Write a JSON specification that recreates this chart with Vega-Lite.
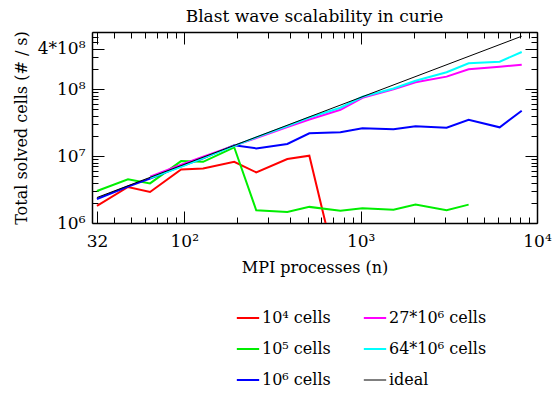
{
  "$schema": "https://vega.github.io/schema/vega-lite/v6.json",
  "autosize": "none",
  "width": 445,
  "height": 191,
  "padding": {"left": 92, "top": 32, "right": 16, "bottom": 171},
  "background": "white",
  "title": {"text": "Blast wave scalability in curie", "font": "DejaVu Serif", "fontSize": 17, "fontWeight": "normal", "color": "black", "anchor": "middle", "offset": -3},
  "config": {
    "view": {"stroke": null},
    "axis": {"labelFont": "DejaVu Serif", "labelFontSize": 17, "labelColor": "black", "titleFont": "DejaVu Serif", "titleFontSize": 16, "titleFontWeight": "normal", "titleColor": "black", "grid": false, "domainColor": "black", "domainWidth": 1.5, "tickColor": "black", "tickWidth": 1, "labelOverlap": false, "labelFlush": false, "labelBound": false},
    "legend": {"labelFont": "DejaVu Serif", "labelFontSize": 16, "labelColor": "black"}
  },
  "resolve": {"axis": {"x": "independent", "y": "independent"}},
  "layer": [
    {
      "data": {"values": [
        {"n": 32, "v": 1.8e6, "s": "10⁴ cells"}, {"n": 48, "v": 3.45e6, "s": "10⁴ cells"}, {"n": 64, "v": 2.9e6, "s": "10⁴ cells"}, {"n": 96, "v": 6.3e6, "s": "10⁴ cells"}, {"n": 128, "v": 6.5e6, "s": "10⁴ cells"}, {"n": 192, "v": 8.2e6, "s": "10⁴ cells"}, {"n": 256, "v": 5.7e6, "s": "10⁴ cells"}, {"n": 384, "v": 9.0e6, "s": "10⁴ cells"}, {"n": 512, "v": 1.01e7, "s": "10⁴ cells"}, {"n": 768, "v": 1.2e5, "s": "10⁴ cells"},
        {"n": 32, "v": 3.0e6, "s": "10⁵ cells"}, {"n": 48, "v": 4.5e6, "s": "10⁵ cells"}, {"n": 64, "v": 3.9e6, "s": "10⁵ cells"}, {"n": 96, "v": 8.4e6, "s": "10⁵ cells"}, {"n": 128, "v": 8.2e6, "s": "10⁵ cells"}, {"n": 192, "v": 1.35e7, "s": "10⁵ cells"}, {"n": 256, "v": 1.55e6, "s": "10⁵ cells"}, {"n": 384, "v": 1.46e6, "s": "10⁵ cells"}, {"n": 512, "v": 1.74e6, "s": "10⁵ cells"}, {"n": 768, "v": 1.53e6, "s": "10⁵ cells"}, {"n": 1024, "v": 1.66e6, "s": "10⁵ cells"}, {"n": 1536, "v": 1.58e6, "s": "10⁵ cells"}, {"n": 2048, "v": 1.88e6, "s": "10⁵ cells"}, {"n": 3072, "v": 1.55e6, "s": "10⁵ cells"}, {"n": 4096, "v": 1.88e6, "s": "10⁵ cells"},
        {"n": 32, "v": 2.28e6, "s": "10⁶ cells"}, {"n": 48, "v": 3.5e6, "s": "10⁶ cells"}, {"n": 64, "v": 4.6e6, "s": "10⁶ cells"}, {"n": 96, "v": 7.0e6, "s": "10⁶ cells"}, {"n": 128, "v": 9.2e6, "s": "10⁶ cells"}, {"n": 192, "v": 1.45e7, "s": "10⁶ cells"}, {"n": 256, "v": 1.3e7, "s": "10⁶ cells"}, {"n": 384, "v": 1.51e7, "s": "10⁶ cells"}, {"n": 512, "v": 2.18e7, "s": "10⁶ cells"}, {"n": 768, "v": 2.26e7, "s": "10⁶ cells"}, {"n": 1024, "v": 2.59e7, "s": "10⁶ cells"}, {"n": 1536, "v": 2.5e7, "s": "10⁶ cells"}, {"n": 2048, "v": 2.77e7, "s": "10⁶ cells"}, {"n": 3072, "v": 2.65e7, "s": "10⁶ cells"}, {"n": 4096, "v": 3.48e7, "s": "10⁶ cells"}, {"n": 6144, "v": 2.68e7, "s": "10⁶ cells"}, {"n": 8192, "v": 4.74e7, "s": "10⁶ cells"},
        {"n": 64, "v": 4.9e6, "s": "27*10⁶ cells"}, {"n": 96, "v": 7.4e6, "s": "27*10⁶ cells"}, {"n": 128, "v": 9.8e6, "s": "27*10⁶ cells"}, {"n": 192, "v": 1.43e7, "s": "27*10⁶ cells"}, {"n": 256, "v": 1.85e7, "s": "27*10⁶ cells"}, {"n": 384, "v": 2.7e7, "s": "27*10⁶ cells"}, {"n": 512, "v": 3.5e7, "s": "27*10⁶ cells"}, {"n": 768, "v": 4.9e7, "s": "27*10⁶ cells"}, {"n": 1024, "v": 7.4e7, "s": "27*10⁶ cells"}, {"n": 1536, "v": 9.9e7, "s": "27*10⁶ cells"}, {"n": 2048, "v": 1.26e8, "s": "27*10⁶ cells"}, {"n": 3072, "v": 1.53e8, "s": "27*10⁶ cells"}, {"n": 4096, "v": 1.97e8, "s": "27*10⁶ cells"}, {"n": 6144, "v": 2.15e8, "s": "27*10⁶ cells"}, {"n": 8192, "v": 2.31e8, "s": "27*10⁶ cells"},
        {"n": 64, "v": 4.7e6, "s": "64*10⁶ cells"}, {"n": 96, "v": 6.9e6, "s": "64*10⁶ cells"}, {"n": 128, "v": 9.3e6, "s": "64*10⁶ cells"}, {"n": 192, "v": 1.42e7, "s": "64*10⁶ cells"}, {"n": 256, "v": 1.9e7, "s": "64*10⁶ cells"}, {"n": 384, "v": 2.8e7, "s": "64*10⁶ cells"}, {"n": 512, "v": 3.75e7, "s": "64*10⁶ cells"}, {"n": 768, "v": 5.26e7, "s": "64*10⁶ cells"}, {"n": 1024, "v": 7.67e7, "s": "64*10⁶ cells"}, {"n": 1536, "v": 1.02e8, "s": "64*10⁶ cells"}, {"n": 2048, "v": 1.33e8, "s": "64*10⁶ cells"}, {"n": 3072, "v": 1.78e8, "s": "64*10⁶ cells"}, {"n": 4096, "v": 2.42e8, "s": "64*10⁶ cells"}, {"n": 6144, "v": 2.56e8, "s": "64*10⁶ cells"}, {"n": 8192, "v": 3.57e8, "s": "64*10⁶ cells"},
        {"n": 32, "v": 2.4e6, "s": "ideal"}, {"n": 8192, "v": 6.14e8, "s": "ideal"}
      ]},
      "mark": {"type": "line", "clip": true},
      "encoding": {
        "x": {"field": "n", "type": "quantitative", "scale": {"type": "log", "domain": [30, 10000], "nice": false},
          "axis": {"orient": "bottom", "title": "MPI processes (n)", "titlePadding": 4,
            "values": [32, 40, 50, 60, 70, 80, 90, 100, 200, 300, 400, 500, 600, 700, 800, 900, 1000, 2000, 3000, 4000, 5000, 6000, 7000, 8000, 9000, 10000],
            "labelExpr": "datum.value==32?'32':datum.value==100?'10²':datum.value==1000?'10³':datum.value==10000?'10⁴':''",
            "tickSize": {"condition": {"test": "datum.value==32||datum.value==100||datum.value==1000||datum.value==10000", "value": -12}, "value": -6},
            "labelPadding": 22}},
        "y": {"field": "v", "type": "quantitative", "scale": {"type": "log", "domain": [1e6, 7.1e8], "nice": false},
          "axis": {"orient": "left", "title": "Total solved cells (# / s)", "titlePadding": 8,
            "values": [1e6, 2e6, 3e6, 4e6, 5e6, 6e6, 7e6, 8e6, 9e6, 1e7, 2e7, 3e7, 4e7, 5e7, 6e7, 7e7, 8e7, 9e7, 1e8, 2e8, 3e8, 4e8, 5e8, 6e8, 7e8],
            "labelExpr": "datum.value==1e6?'10⁶':datum.value==1e7?'10⁷':datum.value==1e8?'10⁸':datum.value==4e8?'4*10⁸':''",
            "tickSize": {"condition": {"test": "datum.value==1e6||datum.value==1e7||datum.value==1e8||datum.value==4e8", "value": -12}, "value": -6},
            "labelPadding": 19}},
        "color": {"field": "s", "type": "nominal",
          "scale": {"domain": ["10⁴ cells", "10⁵ cells", "10⁶ cells", "27*10⁶ cells", "64*10⁶ cells", "ideal"], "range": ["#ff0000", "#00ee00", "#0000ff", "#ff00ff", "#00ffff", "#000000"]},
          "legend": {"title": null, "orient": "none", "legendX": 148, "legendY": 278, "columns": 2, "columnPadding": 28, "rowPadding": 15, "symbolType": "stroke", "symbolSize": 500, "symbolStrokeWidth": 2, "labelOffset": 6,
            "encode": {"symbols": {"update": {"strokeWidth": {"signal": "datum.value=='ideal'?1:2"}}}}}},
        "strokeWidth": {"condition": {"test": "datum.s=='ideal'", "value": 1}, "value": 2}
      }
    },
    {
      "data": {"values": [{"n": 100, "v": 1e7}]},
      "mark": {"type": "point", "opacity": 0},
      "encoding": {
        "x": {"field": "n", "type": "quantitative", "scale": {"type": "log", "domain": [30, 10000], "nice": false},
          "axis": {"orient": "top", "title": null, "labels": false,
            "values": [32, 40, 50, 60, 70, 80, 90, 100, 200, 300, 400, 500, 600, 700, 800, 900, 1000, 2000, 3000, 4000, 5000, 6000, 7000, 8000, 9000, 10000],
            "tickSize": {"condition": {"test": "datum.value==32||datum.value==100||datum.value==1000||datum.value==10000", "value": -12}, "value": -6}}},
        "y": {"field": "v", "type": "quantitative", "scale": {"type": "log", "domain": [1e6, 7.1e8], "nice": false},
          "axis": {"orient": "right", "title": null, "labels": false,
            "values": [1e6, 2e6, 3e6, 4e6, 5e6, 6e6, 7e6, 8e6, 9e6, 1e7, 2e7, 3e7, 4e7, 5e7, 6e7, 7e7, 8e7, 9e7, 1e8, 2e8, 3e8, 4e8, 5e8, 6e8, 7e8],
            "tickSize": {"condition": {"test": "datum.value==1e6||datum.value==1e7||datum.value==1e8||datum.value==4e8", "value": -12}, "value": -6}}}
      }
    }
  ]
}
